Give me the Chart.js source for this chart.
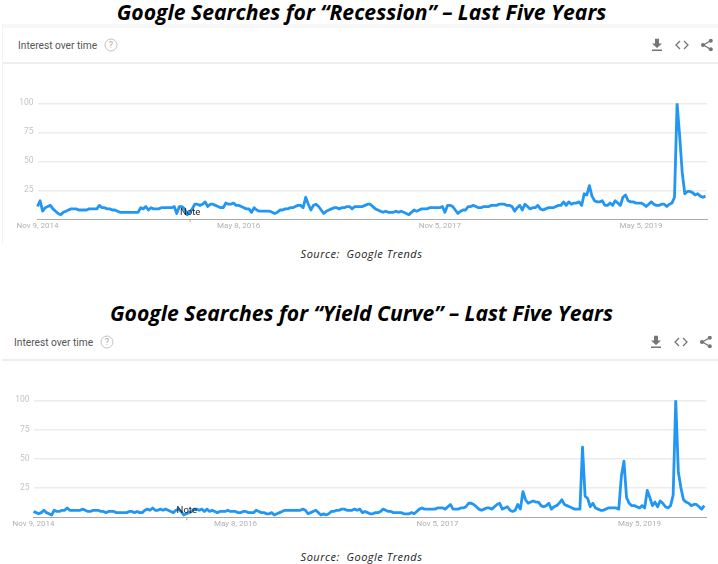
<!DOCTYPE html>
<html>
<head>
<meta charset="utf-8">
<script src="https://cdn.jsdelivr.net/npm/chart.js@4"></script>
<style>
html,body{margin:0;padding:0;background:#fff;width:718px;height:564px;overflow:hidden}
.abs{position:absolute}
.t{position:absolute;white-space:pre;transform:translate(-50%,-50%)}
.title{font:italic 700 21.15px "Open Sans",sans-serif;color:#000;left:361.5px}
.src{font:italic 400 11px "Open Sans",sans-serif;color:#222;left:361.5px;letter-spacing:.5px}
.iot{position:absolute;white-space:nowrap;font:400 10.2px Roboto,sans-serif;color:#555;transform:translateY(-50%)}
.q{position:absolute;width:11px;height:11px;border:1px solid #c4c4c4;border-radius:50%;font:400 9px/11px Roboto,sans-serif;color:#aaa;text-align:center;transform:translate(-50%,-50%)}
canvas{position:absolute;left:0;filter:blur(.3px)}
svg{position:absolute;transform:translate(-50%,-50%)}
</style>
</head>
<body>
<div class="abs" style="left:2px;top:24px;width:716px;height:4px;background:#f7f7f7"></div>
<div class="abs" style="left:2px;top:24px;width:1px;height:220px;background:#f3f3f3"></div>
<div class="abs" style="left:3px;top:62px;width:715px;height:1.5px;background:#eee"></div>
<div class="abs" style="left:2px;top:359px;width:716px;height:1.5px;background:#eee"></div>

<div class="t title" style="top:11px">Google Searches for “Recession” – Last Five Years</div>
<div class="iot" style="left:18px;top:44.5px">Interest over time</div>
<div class="q" style="left:111px;top:45px">?</div>
<svg style="left:657px;top:45px" width="12" height="13" viewBox="0 0 12 13"><path d="M4 0h4v5h3L6 9.5 1 5h3zM1 11h10v1.5H1z" fill="#757575"/></svg>
<svg style="left:682px;top:45px" width="14" height="10" viewBox="0 0 14 10"><path d="M5 1L1 5l4 4M9 1l4 4-4 4" fill="none" stroke="#757575" stroke-width="1.3"/></svg>
<svg style="left:707px;top:45px" width="13" height="13" viewBox="0 0 13 13"><path d="M10 2.2L3 6.5l7 4.3" fill="none" stroke="#757575" stroke-width="1.3"/><circle cx="10.3" cy="2.2" r="2" fill="#757575"/><circle cx="2.5" cy="6.5" r="2" fill="#757575"/><circle cx="10.3" cy="10.8" r="2" fill="#757575"/></svg>
<canvas id="chartRecession" width="718" height="150" style="top:90px;width:718px;height:150px"></canvas>
<div class="t src" style="top:253px">Source:  Google Trends</div>

<div class="t title" style="top:311.5px">Google Searches for “Yield Curve” – Last Five Years</div>
<div class="iot" style="left:14px;top:341.5px">Interest over time</div>
<div class="q" style="left:107px;top:342px">?</div>
<svg style="left:656px;top:342px" width="12" height="13" viewBox="0 0 12 13"><path d="M4 0h4v5h3L6 9.5 1 5h3zM1 11h10v1.5H1z" fill="#757575"/></svg>
<svg style="left:681px;top:342px" width="14" height="10" viewBox="0 0 14 10"><path d="M5 1L1 5l4 4M9 1l4 4-4 4" fill="none" stroke="#757575" stroke-width="1.3"/></svg>
<svg style="left:706px;top:342px" width="13" height="13" viewBox="0 0 13 13"><path d="M10 2.2L3 6.5l7 4.3" fill="none" stroke="#757575" stroke-width="1.3"/><circle cx="10.3" cy="2.2" r="2" fill="#757575"/><circle cx="2.5" cy="6.5" r="2" fill="#757575"/><circle cx="10.3" cy="10.8" r="2" fill="#757575"/></svg>
<canvas id="chartYield" width="718" height="150" style="top:387px;width:718px;height:150px"></canvas>
<div class="t src" style="top:556px">Source:  Google Trends</div>

<script>
const tickWeeks = [0, 78, 156, 234];
const tickLabels = ["Nov 9, 2014", "May 8, 2016", "Nov 5, 2017", "May 5, 2019"];
const yTicks = [25, 50, 75, 100];
const noteWeek = 59;
const recession = [
11,16,7,10,11,12,9,7,5,4,
6,7,8,9,9,9,8,8,8,8,
9,9,9,9,12,10,10,9,9,8,
8,7,6,6,6,6,6,6,6,6,
10,9,11,8,10,9,9,9,10,10,
10,10,10,11,5,11,11,9,4,6,
9,13,13,12,13,15,11,13,13,12,
11,10,10,14,13,13,14,12,12,11,
10,9,9,6,10,8,7,7,7,7,
7,6,5,6,8,8,9,9,10,10,
11,12,12,10,19,13,8,12,13,11,
8,5,7,8,9,10,10,9,10,10,
11,11,9,11,11,11,11,12,13,13,
11,9,8,7,6,7,6,6,6,7,
6,7,6,5,4,6,8,7,8,9,
9,9,10,10,10,10,10,11,6,12,
12,11,8,5,7,8,8,11,11,12,
11,10,10,11,11,11,12,12,12,13,
13,13,12,12,11,7,10,12,8,13,
11,9,10,10,12,9,8,9,10,10,
10,11,12,12,15,12,15,13,14,14,
15,12,22,21,29,20,16,15,15,16,
12,12,14,12,16,14,12,19,21,16,
15,15,14,14,14,13,11,13,15,13,
12,12,13,13,11,13,14,19,100,72,
40,22,24,24,23,21,22,20,19,20];
const yieldCurve = [
5,4,3,4,6,4,3,2,6,5,
5,6,6,8,6,6,6,6,6,7,
6,5,5,6,6,6,5,5,4,5,
5,5,4,4,4,4,4,5,5,4,
5,4,4,6,7,6,8,6,6,7,
6,7,6,5,4,6,7,5,2,3,
4,5,7,7,6,7,5,7,5,6,
5,4,5,5,5,6,5,5,5,4,
4,5,5,4,4,4,6,5,4,4,
3,3,4,2,3,4,5,6,6,6,
6,6,6,6,7,6,3,4,5,6,
4,2,3,2,3,5,5,6,6,7,
7,6,6,6,7,6,7,4,5,4,
3,3,4,4,5,7,6,5,5,4,
4,4,4,3,3,3,4,3,5,7,
8,7,7,7,7,7,8,8,8,7,
9,11,7,7,7,8,8,9,12,12,
11,9,7,6,7,8,8,7,9,11,
12,7,8,9,6,5,6,11,7,22,
15,12,13,14,13,13,10,9,10,12,
7,9,10,12,15,11,10,9,8,7,
7,7,60,18,16,9,12,8,7,6,
6,7,8,8,8,8,7,35,48,17,
12,10,10,9,8,10,8,23,17,10,
13,9,14,12,9,8,10,19,100,39,
25,15,13,12,10,11,11,9,7,10];

const notePlugin = {
  id: 'note',
  afterDatasetsDraw(chart) {
    const { ctx, scales: { x, y } } = chart;
    const px = x.getPixelForValue(noteWeek);
    ctx.save();
    ctx.strokeStyle = '#aaa';
    ctx.beginPath(); ctx.moveTo(px + .5, y.bottom); ctx.lineTo(px + .5, y.bottom + 3); ctx.stroke();
    ctx.fillStyle = '#222';
    ctx.font = '9.5px Roboto, sans-serif';
    ctx.textAlign = 'center';
    ctx.textBaseline = 'middle';
    ctx.fillText('Note', px + .5, y.bottom - 6.5);
    ctx.restore();
  }
};

function build(id, values, left, right, top, xAxisH, xMax) {
  return new Chart(document.getElementById(id), {
    type: 'line',
    data: { datasets: [{
      data: values.map((v, i) => ({ x: i, y: v })),
      borderColor: '#2196f3', borderWidth: 2.8, pointRadius: 0, tension: 0,
      borderJoinStyle: 'round', clip: { left: 5, right: 5, top: 0, bottom: 5 }
    }] },
    plugins: [notePlugin],
    options: {
      responsive: false, animation: false,
      layout: { padding: { left: 0, right: right, top: top, bottom: 0 } },
      plugins: { legend: { display: false }, tooltip: { enabled: false }, title: { display: false } },
      scales: {
        x: {
          type: 'linear', min: 0, max: xMax,
          afterBuildTicks(s) { s.ticks = tickWeeks.map(v => ({ value: v })); },
          afterFit(s) { s.height = xAxisH; },
          grid: { display: false, tickLength: 0 },
          border: { color: '#aaa', width: 1 },
          ticks: {
            autoSkip: false, maxRotation: 0, minRotation: 0, padding: 2,
            color: '#b0b0b0', font: { family: 'Roboto, sans-serif', size: 8 },
            callback: v => tickLabels[tickWeeks.indexOf(v)]
          }
        },
        y: {
          min: 0, max: 100,
          afterBuildTicks(s) { s.ticks = yTicks.map(v => ({ value: v })); },
          afterFit(s) { s.width = left; },
          grid: { color: '#ececec', lineWidth: 1.4, drawTicks: false },
          border: { display: false },
          ticks: { padding: 4, color: '#c4c4c4', font: { family: 'Roboto, sans-serif', size: 8.5 } }
        }
      }
    }
  });
}
build('chartRecession', recession, 37.5, 11, 13.3, 20.7, 259.6);
build('chartYield', yieldCurve, 33.5, 11.7, 13.3, 19.7, 259.8);
</script>
</body>
</html>
